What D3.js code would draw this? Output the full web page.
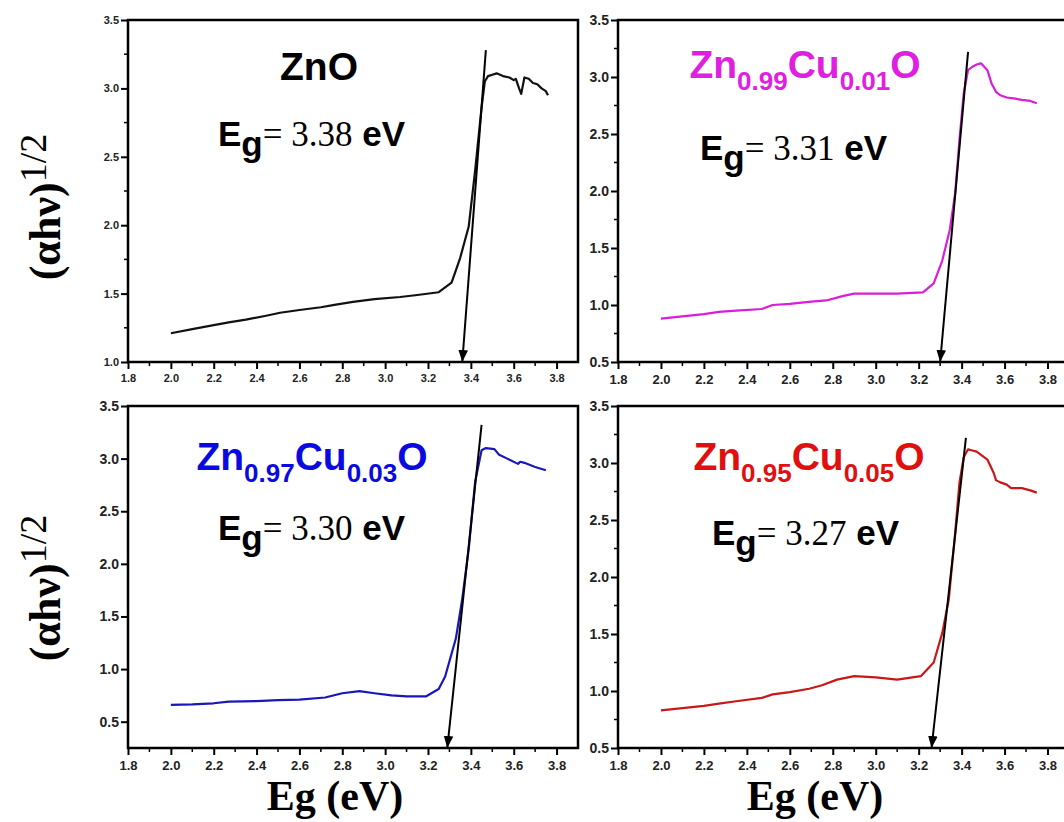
<!DOCTYPE html>
<html>
<head>
<meta charset="utf-8">
<script src="https://cdn.jsdelivr.net/npm/d3@7"></script>
<style>
  body { margin: 0; background: #fff; }
  svg { display: block; }
</style>
</head>
<body>
<div id="chart"></div>
<script>
// ---- data ----
var xTicks = [1.8, 2.0, 2.2, 2.4, 2.6, 2.8, 3.0, 3.2, 3.4, 3.6, 3.8];

// ZnO
var znoE = [2.0, 2.1, 2.2, 2.27, 2.35, 2.45, 2.51, 2.6, 2.7, 2.77, 2.85, 2.95, 3.07, 3.15, 3.25, 3.31, 3.35, 3.39, 3.42, 3.45, 3.465, 3.48, 3.5, 3.52, 3.55, 3.58, 3.6, 3.61, 3.625, 3.635, 3.65, 3.67, 3.69, 3.71, 3.73, 3.75, 3.76];
var znoA = [1.21, 1.24, 1.27, 1.29, 1.31, 1.34, 1.36, 1.38, 1.40, 1.42, 1.44, 1.46, 1.475, 1.49, 1.51, 1.58, 1.76, 1.99, 2.40, 2.86, 3.05, 3.09, 3.10, 3.11, 3.09, 3.08, 3.06, 3.07, 3.0, 2.96, 3.08, 3.07, 3.04, 3.03, 3.0, 2.98, 2.95];
var znoFit = [[3.47, 3.28], [3.36, 1.0]];

// Zn0.99Cu0.01O
var cu1E = [2.0, 2.1, 2.2, 2.27, 2.35, 2.47, 2.52, 2.6, 2.7, 2.77, 2.85, 2.9, 3.0, 3.1, 3.22, 3.27, 3.31, 3.345, 3.37, 3.39, 3.41, 3.43, 3.45, 3.47, 3.49, 3.5, 3.52, 3.54, 3.56, 3.58, 3.61, 3.65, 3.68, 3.72, 3.75];
var cu1A = [0.88, 0.90, 0.92, 0.94, 0.95, 0.965, 1.0, 1.01, 1.03, 1.04, 1.08, 1.10, 1.10, 1.10, 1.11, 1.19, 1.39, 1.66, 1.98, 2.45, 2.86, 3.06, 3.09, 3.11, 3.12, 3.10, 3.06, 2.94, 2.87, 2.84, 2.82, 2.81, 2.80, 2.79, 2.77];
var cu1Fit = [[3.43, 3.22], [3.30, 0.5]];

// Zn0.97Cu0.03O
var cu3E = [2.0, 2.1, 2.2, 2.27, 2.4, 2.5, 2.6, 2.72, 2.8, 2.88, 2.95, 3.03, 3.1, 3.19, 3.25, 3.28, 3.33, 3.36, 3.39, 3.42, 3.45, 3.47, 3.51, 3.53, 3.57, 3.62, 3.63, 3.65, 3.7, 3.75];
var cu3A = [0.66, 0.665, 0.675, 0.69, 0.695, 0.705, 0.71, 0.73, 0.77, 0.79, 0.77, 0.75, 0.74, 0.74, 0.81, 0.93, 1.29, 1.67, 2.14, 2.78, 3.08, 3.10, 3.09, 3.04, 3.00, 2.95, 2.97, 2.96, 2.92, 2.89];
var cu3Fit = [[3.45, 3.32], [3.29, 0.25]];

// Zn0.95Cu0.05O
var cu5E = [2.0, 2.1, 2.2, 2.27, 2.35, 2.47, 2.52, 2.6, 2.69, 2.75, 2.82, 2.9, 3.0, 3.1, 3.21, 3.27, 3.31, 3.34, 3.37, 3.39, 3.41, 3.43, 3.45, 3.47, 3.52, 3.55, 3.56, 3.58, 3.61, 3.63, 3.68, 3.72, 3.75];
var cu5A = [0.83, 0.85, 0.87, 0.89, 0.91, 0.94, 0.97, 0.99, 1.02, 1.05, 1.10, 1.13, 1.12, 1.10, 1.13, 1.25, 1.51, 1.80, 2.39, 2.83, 3.05, 3.12, 3.11, 3.10, 3.03, 2.91, 2.85, 2.83, 2.81, 2.78, 2.78, 2.76, 2.74];
var cu5Fit = [[3.42, 3.22], [3.26, 0.5]];

var W = 1064, H = 822;
var svg = d3.select("#chart").append("svg")
  .attr("width", W).attr("height", H);

svg.append("defs").append("marker")
  .attr("id", "head")
  .attr("viewBox", "0 0 10 10")
  .attr("refX", 10).attr("refY", 5)
  .attr("markerWidth", 6).attr("markerHeight", 6)
  .attr("orient", "auto")
  .append("path").attr("d", "M0,1 L10,5 L0,9 Z").attr("fill", "#000");

var panels = [
  {x0: 128, y0: 20, x1: 578, y1: 362, yDom: [1.0, 3.5], yTicks: [1.0, 1.5, 2.0, 2.5, 3.0, 3.5],
   E: znoE, A: znoA, fit: znoFit, color: "#111", small: true,
   title: [["ZnO", 0]], tColor: "#000", tx: 319, ty: 80, eg: "3.38", ex: 218, ey: 146},
  {x0: 618, y0: 20, x1: 1069, y1: 362, yDom: [0.5, 3.5], yTicks: [0.5, 1.0, 1.5, 2.0, 2.5, 3.0, 3.5],
   E: cu1E, A: cu1A, fit: cu1Fit, color: "#d81ed8",
   title: [["Zn", 0], ["0.99", 1], ["Cu", 0], ["0.01", 1], ["O", 0]], tColor: "#e020e0", tx: 805, ty: 78, eg: "3.31", ex: 700, ey: 160},
  {x0: 128, y0: 406, x1: 578, y1: 748, yDom: [0.25, 3.5], yTicks: [0.5, 1.0, 1.5, 2.0, 2.5, 3.0, 3.5],
   E: cu3E, A: cu3A, fit: cu3Fit, color: "#1818b8",
   title: [["Zn", 0], ["0.97", 1], ["Cu", 0], ["0.03", 1], ["O", 0]], tColor: "#0a0ae0", tx: 312, ty: 470, eg: "3.30", ex: 218, ey: 540},
  {x0: 618, y0: 406, x1: 1069, y1: 748, yDom: [0.5, 3.5], yTicks: [0.5, 1.0, 1.5, 2.0, 2.5, 3.0, 3.5],
   E: cu5E, A: cu5A, fit: cu5Fit, color: "#c81818",
   title: [["Zn", 0], ["0.95", 1], ["Cu", 0], ["0.05", 1], ["O", 0]], tColor: "#e01010", tx: 809, ty: 470, eg: "3.27", ex: 712, ey: 545}
];

panels.forEach(function (p) {
  var x = d3.scaleLinear().domain([1.8, 3.9]).range([p.x0, p.x1]);
  var y = d3.scaleLinear().domain(p.yDom).range([p.y1, p.y0]);
  var g = svg.append("g");
  var tickFont = p.small ? 11 : 13;
  var yFont = p.small ? 11 : 14;

  // minor ticks
  var xMinor = d3.range(1.9, 3.9, 0.2);
  g.selectAll(".xm").data(xMinor).enter().append("line")
    .attr("x1", function (d) { return x(d); }).attr("x2", function (d) { return x(d); })
    .attr("y1", p.y1).attr("y2", p.y1 + 4)
    .attr("stroke", "#000").attr("stroke-width", 1.5);
  var yMinor = d3.range(p.yDom[0] + 0.25, 3.5, 0.5).filter(function (v) { return Math.abs((v * 4) % 2 - 1) < 0.01; });
  g.selectAll(".ym").data(yMinor).enter().append("line")
    .attr("x1", p.x0).attr("x2", p.x0 - 4)
    .attr("y1", function (d) { return y(d); }).attr("y2", function (d) { return y(d); })
    .attr("stroke", "#000").attr("stroke-width", 1.5);

  var xAxis = g.append("g")
    .attr("transform", "translate(0," + p.y1 + ")")
    .call(d3.axisBottom(x).tickValues(xTicks).tickFormat(d3.format(".1f")).tickSize(7).tickSizeOuter(0));
  var yAxis = g.append("g")
    .attr("transform", "translate(" + p.x0 + ",0)")
    .call(d3.axisLeft(y).tickValues(p.yTicks).tickFormat(d3.format(".1f")).tickSize(7).tickSizeOuter(0));
  [xAxis, yAxis].forEach(function (a) {
    a.select(".domain").remove();
    a.selectAll("line").attr("stroke", "#000").attr("stroke-width", 2);
    a.selectAll("text").attr("fill", "#222")
      .style("font-family", "Arial, 'Liberation Sans', sans-serif").style("font-weight", "bold");
  });
  xAxis.selectAll("text").style("font-size", tickFont + "px").attr("dy", "0.9em");
  yAxis.selectAll("text").style("font-size", yFont + "px").attr("x", -9);

  // frame
  g.append("rect")
    .attr("x", p.x0).attr("y", p.y0)
    .attr("width", p.x1 - p.x0).attr("height", p.y1 - p.y0)
    .attr("fill", "none").attr("stroke", "#000").attr("stroke-width", 2.5);

  // data curve
  var pts = p.E.map(function (e, i) { return [e, p.A[i]]; });
  g.append("path").datum(pts)
    .attr("fill", "none").attr("stroke", p.color).attr("stroke-width", 2.2)
    .attr("stroke-linejoin", "round")
    .attr("d", d3.line().x(function (d) { return x(d[0]); }).y(function (d) { return y(d[1]); }));

  // linear fit with arrow
  g.append("line")
    .attr("x1", x(p.fit[0][0])).attr("y1", y(p.fit[0][1]))
    .attr("x2", x(p.fit[1][0])).attr("y2", y(p.fit[1][1]))
    .attr("stroke", "#000").attr("stroke-width", 2)
    .attr("marker-end", "url(#head)");

  // title
  var t = g.append("text")
    .attr("x", p.tx).attr("y", p.ty)
    .attr("text-anchor", "middle")
    .attr("fill", p.tColor)
    .style("font-family", "Arial, 'Liberation Sans', sans-serif")
    .style("font-weight", "bold").style("font-size", "39px");
  p.title.forEach(function (s) {
    var ts = t.append("tspan").text(s[0]);
    if (s[1]) ts.style("font-size", "26px").attr("dy", 12);
    else if (s !== p.title[0]) ts.attr("dy", -12);
  });

  // band gap label
  var eg = g.append("text").attr("x", p.ex).attr("y", p.ey)
    .attr("fill", "#000").style("font-size", "35px");
  eg.append("tspan").text("E")
    .style("font-family", "Arial, 'Liberation Sans', sans-serif").style("font-weight", "bold");
  eg.append("tspan").text("g").attr("dy", 10)
    .style("font-family", "Arial, 'Liberation Sans', sans-serif").style("font-weight", "bold");
  eg.append("tspan").text("= " + p.eg).attr("dy", -10)
    .style("font-family", "'Liberation Serif', 'Times New Roman', serif");
  eg.append("tspan").text(" eV")
    .style("font-family", "Arial, 'Liberation Sans', sans-serif").style("font-weight", "bold");
});

// y axis titles
[207, 588].forEach(function (cy) {
  var t = svg.append("text")
    .attr("transform", "translate(60," + cy + ") rotate(-90)")
    .attr("text-anchor", "middle")
    .style("font-family", "'Liberation Serif', 'Times New Roman', serif")
    .style("font-size", "44px");
  t.append("tspan").text("(\u03b1h\u03bd)").style("font-weight", "bold");
  t.append("tspan").text("1/2").attr("dy", -14).style("font-size", "38px");
});

// x axis titles
[335, 815].forEach(function (cx) {
  svg.append("text")
    .attr("x", cx).attr("y", 810)
    .attr("text-anchor", "middle")
    .style("font-family", "'Liberation Serif', 'Times New Roman', serif")
    .style("font-weight", "bold").style("font-size", "42px")
    .text("Eg (eV)");
});
</script>
</body>
</html>
